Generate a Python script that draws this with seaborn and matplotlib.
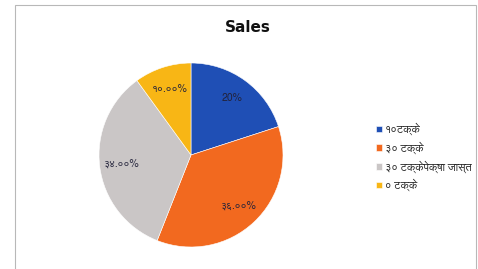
"""Sales pie chart (Marathi labels)."""
import matplotlib
matplotlib.use("Agg")
import numpy as np
import matplotlib.pyplot as plt
from matplotlib.patches import Rectangle
import seaborn as sns

# data
categories = ["१०टक्के", "३० टक्के", "३० टक्केपेक्षा जास्त", "० टक्के"]
shares = [20, 36, 34, 10]
pct_labels = ["20%", "३६.००%", "३४.००%", "१०.००%"]
title = "Sales"

sns.set_theme(style="white")
# FreeSans carries the Devanagari glyphs
plt.rcParams["font.family"] = ["FreeSans", "DejaVu Sans"]

colors = sns.color_palette(["#1f4fb5", "#f2691f", "#cac6c6", "#f8b615"])

W, H = 478, 269
fig = plt.figure(figsize=(W / 100, H / 100), dpi=100)
fig.patch.set_facecolor("white")

# chart area border
fig.patches.append(Rectangle((15 / W, -0.05), 461 / W, 1 - 5 / H + 0.05,
                             transform=fig.transFigure, fill=False,
                             edgecolor="#b8b8b8", linewidth=0.8))

cx, cy, r = 191, 155, 92
ax = fig.add_axes([(cx - r) / W, (H - cy - r) / H, 2 * r / W, 2 * r / H])
wedges, _ = ax.pie(shares, colors=colors, startangle=90, counterclock=False,
                   wedgeprops=dict(edgecolor="white", linewidth=0.4))
ax.set_xlim(-1, 1)
ax.set_ylim(-1, 1)
ax.set_aspect("equal")
ax.axis("off")

# percentage labels inside the slices
start = 90.0
for val, txt in zip(shares, pct_labels):
    mid = np.deg2rad(start - val * 3.6 / 2)
    ax.text(0.76 * np.cos(mid), 0.76 * np.sin(mid), txt, ha="center",
            va="center", fontsize=7.5, color="#22223a")
    start -= val * 3.6

fig.text(248 / W, 1 - 27 / H, title, ha="center", va="center",
         fontsize=11, fontweight="bold", color="#111111",
         family="DejaVu Sans")

fig.legend(wedges, categories, loc="center left",
           bbox_to_anchor=(370 / W, 1 - 157 / H), frameon=False,
           fontsize=8, handlelength=0.55, handleheight=0.55,
           handletextpad=0.3, labelspacing=0.55, borderpad=0)

fig.savefig("out.png", dpi=100)
